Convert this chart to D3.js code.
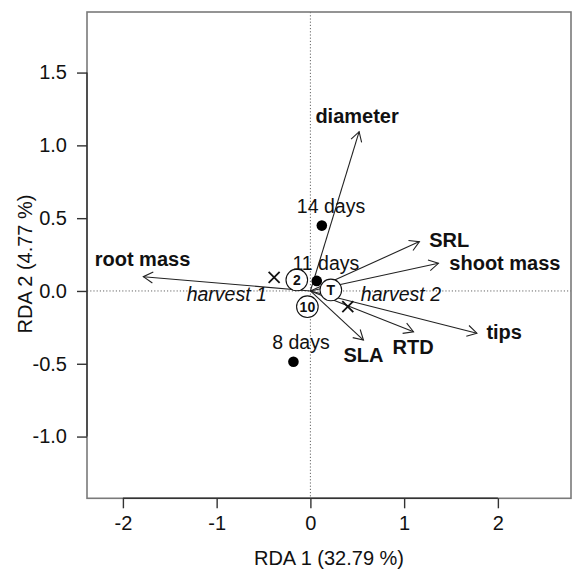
<!DOCTYPE html>
<html>
<head>
<meta charset="utf-8">
<script src="https://cdn.jsdelivr.net/npm/d3@7"></script>
<style>
  html, body { margin: 0; padding: 0; background: #fff; }
  svg text { font-family: "Liberation Sans", Arial, Helvetica, sans-serif; fill: #111; }
</style>
</head>
<body>
<svg id="chart" width="573" height="571"></svg>
<script>
// Trait vectors (biplot arrows)
const traitNames = ["diameter", "SRL", "shoot mass", "tips", "RTD", "SLA", "root mass"];
const traitX = [0.52, 1.163, 1.366, 1.776, 1.10, 0.566, -1.782];
const traitY = [1.094, 0.339, 0.19, -0.29, -0.28, -0.337, 0.098];
const traitLabelX = [0.498, 1.48, 2.075, 2.067, 1.096, 0.566, -1.791];
const traitLabelY = [1.202, 0.35, 0.19, -0.28, -0.383, -0.44, 0.218];

// Sampling-day centroids
const dayNames = ["14 days", "11 days", "8 days"];
const dayX = [0.122, 0.068, -0.181];
const dayY = [0.449, 0.069, -0.486];
const dayLabelX = [0.22, 0.165, -0.101];
const dayLabelY = [0.584, 0.194, -0.348];

// Harvest centroids
const harvestNames = ["harvest 1", "harvest 2"];
const harvestX = [-0.387, 0.399];
const harvestY = [0.094, -0.108];
const harvestLabelX = [-0.892, 0.966];
const harvestLabelY = [-0.021, -0.023];

// Treatment centroids (circled symbols)
const treatNames = ["2", "T", "10"];
const treatX = [-0.145, 0.218, -0.032];
const treatY = [0.0755, 0.007, -0.108];

// Axes
const xTicks = [-2, -1, 0, 1, 2];
const yTicks = [-1.0, -0.5, 0.0, 0.5, 1.0, 1.5];
const xTitle = "RDA 1 (32.79 %)";
const yTitle = "RDA 2 (4.77 %)";

const svg = d3.select("#chart");
const plotL = 87, plotR = 571, plotT = 12, plotB = 498.3;

const x = d3.scaleLinear().domain([-2.383, 2.78]).range([plotL, plotR]);
const y = d3.scaleLinear().domain([-1.424, 1.916]).range([plotB, plotT]);

// Plain hyphen-minus for negative tick labels
const hyphen = f => v => f(v).replace("\u2212", "-");

// Zero reference lines
svg.append("line")
  .attr("x1", x(0)).attr("x2", x(0)).attr("y1", plotT).attr("y2", plotB)
  .attr("stroke", "#666").attr("stroke-width", 1).attr("stroke-dasharray", "1.2,2");
svg.append("line")
  .attr("x1", plotL).attr("x2", plotR).attr("y1", y(0)).attr("y2", y(0))
  .attr("stroke", "#666").attr("stroke-width", 1).attr("stroke-dasharray", "1.2,2");

// Plot frame
svg.append("rect")
  .attr("x", plotL).attr("y", plotT).attr("width", plotR - plotL).attr("height", plotB - plotT)
  .attr("fill", "none").attr("stroke", "#7a7a7a").attr("stroke-width", 1.6);

// X axis
const xAxis = d3.axisBottom(x).tickValues(xTicks).tickSize(10).tickPadding(8)
  .tickFormat(hyphen(d3.format("d")));
const gx = svg.append("g").attr("transform", `translate(0,${plotB})`).call(xAxis);
gx.select(".domain").attr("d", `M${x(xTicks[0])},0H${x(xTicks[xTicks.length - 1])}`)
  .attr("stroke", "#333").attr("stroke-width", 1.4);
gx.selectAll(".tick line").attr("stroke", "#333").attr("stroke-width", 1.4);
gx.selectAll(".tick text").attr("font-size", 20).attr("fill", "#111")
  .attr("font-family", "Liberation Sans, Arial, sans-serif");

// Y axis
const yAxis = d3.axisLeft(y).tickValues(yTicks).tickSize(10).tickPadding(10)
  .tickFormat(hyphen(d3.format(".1f")));
const gy = svg.append("g").attr("transform", `translate(${plotL},0)`).call(yAxis);
gy.select(".domain").attr("d", `M0,${y(yTicks[0])}V${y(yTicks[yTicks.length - 1])}`)
  .attr("stroke", "#333").attr("stroke-width", 1.4);
gy.selectAll(".tick line").attr("stroke", "#333").attr("stroke-width", 1.4);
gy.selectAll(".tick text").attr("font-size", 20).attr("fill", "#111")
  .attr("font-family", "Liberation Sans, Arial, sans-serif");

// Axis titles
svg.append("text").attr("x", (plotL + plotR) / 2).attr("y", 558)
  .attr("text-anchor", "middle").attr("dominant-baseline", "central")
  .attr("font-size", 20).text(xTitle);
svg.append("text").attr("transform", "translate(25,264) rotate(-90)")
  .attr("text-anchor", "middle").attr("dominant-baseline", "central")
  .attr("font-size", 20).text(yTitle);

// Trait arrows with open heads
const arrows = svg.append("g").attr("stroke", "#222").attr("stroke-width", 1.1).attr("fill", "none");
traitNames.forEach((name, i) => {
  const x0 = x(0), y0 = y(0), x1 = x(traitX[i]), y1 = y(traitY[i]);
  arrows.append("line").attr("x1", x0).attr("y1", y0).attr("x2", x1).attr("y2", y1);
  const ang = Math.atan2(y1 - y0, x1 - x0);
  const len = 11, spread = Math.PI / 6;
  const pts = [ang + Math.PI - spread, ang + Math.PI + spread].map(a => [x1 + len * Math.cos(a), y1 + len * Math.sin(a)]);
  arrows.append("path")
    .attr("d", `M${pts[0][0]},${pts[0][1]}L${x1},${y1}L${pts[1][0]},${pts[1][1]}`);
});

// Harvest centroids (crosses)
const cross = svg.append("g").attr("stroke", "#111").attr("stroke-width", 1.8);
harvestNames.forEach((name, i) => {
  const cx = x(harvestX[i]), cy = y(harvestY[i]), s = 5.5;
  cross.append("line").attr("x1", cx - s).attr("y1", cy - s).attr("x2", cx + s).attr("y2", cy + s);
  cross.append("line").attr("x1", cx - s).attr("y1", cy + s).attr("x2", cx + s).attr("y2", cy - s);
});

// Sampling-day centroids (filled dots)
svg.append("g").selectAll("circle").data(dayNames).join("circle")
  .attr("cx", (d, i) => x(dayX[i])).attr("cy", (d, i) => y(dayY[i]))
  .attr("r", 5.3).attr("fill", "#000");

// Treatment centroids (circled labels)
const treat = svg.append("g");
treatNames.forEach((name, i) => {
  treat.append("circle").attr("cx", x(treatX[i])).attr("cy", y(treatY[i])).attr("r", 10.8)
    .attr("fill", "#fff").attr("stroke", "#111").attr("stroke-width", 1.1);
  treat.append("text").attr("x", x(treatX[i])).attr("y", y(treatY[i]) + 0.5)
    .attr("text-anchor", "middle").attr("dominant-baseline", "central")
    .attr("font-size", 14).attr("font-weight", "bold").text(name);
});

// Labels
svg.append("g").selectAll("text").data(traitNames).join("text")
  .attr("x", (d, i) => x(traitLabelX[i])).attr("y", (d, i) => y(traitLabelY[i]))
  .attr("text-anchor", "middle").attr("dominant-baseline", "central")
  .attr("font-size", 20).attr("font-weight", "bold").text(d => d);

svg.append("g").selectAll("text").data(dayNames).join("text")
  .attr("x", (d, i) => x(dayLabelX[i])).attr("y", (d, i) => y(dayLabelY[i]))
  .attr("text-anchor", "middle").attr("dominant-baseline", "central")
  .attr("font-size", 19.5).text(d => d);

svg.append("g").selectAll("text").data(harvestNames).join("text")
  .attr("x", (d, i) => x(harvestLabelX[i])).attr("y", (d, i) => y(harvestLabelY[i]))
  .attr("text-anchor", "middle").attr("dominant-baseline", "central")
  .attr("font-size", 19.5).attr("font-style", "italic").text(d => d);
</script>
</body>
</html>
